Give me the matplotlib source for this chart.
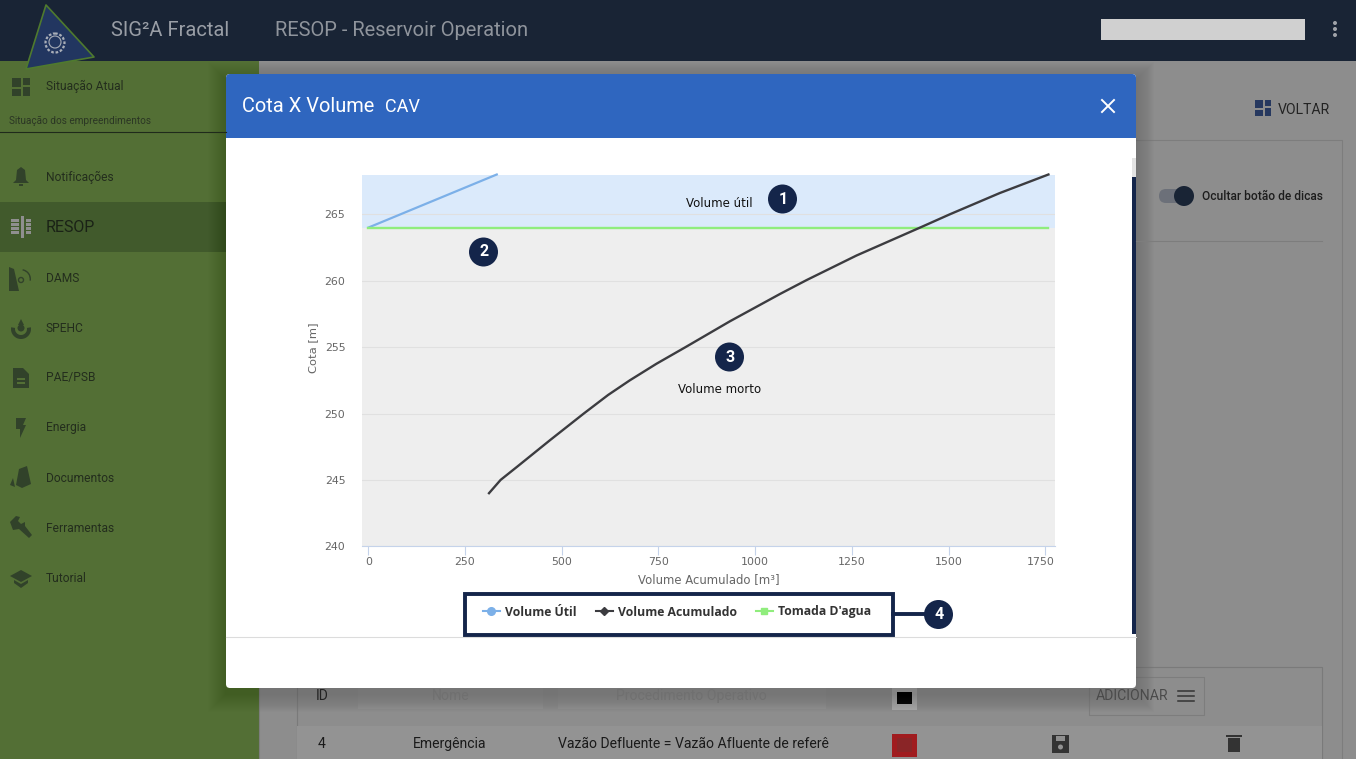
import matplotlib
matplotlib.use('Agg')
import matplotlib.pyplot as plt
from matplotlib.lines import Line2D
from matplotlib.patches import Circle, FancyBboxPatch, Polygon, Rectangle, Wedge
from matplotlib.transforms import ScaledTranslation

W, H = 1356, 759

# chart data
volume_util_x = [0, 332]
volume_util_y = [264, 268]
volume_acum_x = [312, 342, 385, 470, 557, 620, 676, 745, 820, 935, 1064, 1133, 1262, 1426, 1503, 1632, 1758]
volume_acum_y = [244, 245, 246, 248, 250, 251.4, 252.5, 253.75, 255, 256.95, 259, 260.05, 261.9, 264, 265, 266.6, 268]
tomada_x = [0, 1758]
tomada_y = [264, 264]
x_ticks = [0, 250, 500, 750, 1000, 1250, 1500, 1750]
y_ticks = [240, 245, 250, 255, 260, 265]
menu_items = ['Notificações', 'RESOP', 'DAMS', 'SPEHC', 'PAE/PSB', 'Energia',
              'Documentos', 'Ferramentas', 'Tutorial']
menu_y = [177, 227, 278, 328, 378, 428, 478, 528, 578]

NAVY = '#14254a'
BAR = '#192435'
GREEN = '#536f35'
ICON = '#31422a'
PAGE = '#8d8d8d'

plt.rcParams['font.family'] = ['Roboto', 'DejaVu Sans']


def px(size):
    return size * 0.72


def rect(ax, x0, y0, x1, y1, color, **kw):
    ax.add_patch(Rectangle((x0, y0), x1 - x0, y1 - y0, facecolor=color, edgecolor='none', **kw))


def poly(ax, pts, color, y0, x0=0):
    pts = [[x0 + p[0], y0 + p[1]] for p in pts]
    ax.add_patch(Polygon(pts, closed=True, facecolor=color, edgecolor='none'))


def badge(ax, x, y, label):
    ax.add_patch(Circle((x, y), 14.5, facecolor=NAVY, edgecolor='none', zorder=6))
    ax.text(x + 0.5, y, label, color='white', fontsize=px(16), fontweight='bold',
            ha='center', va='center', zorder=7)


def menu_icon(ax, name, y):
    # rough versions of the side menu glyphs, the y axis points down here
    if name == 'Notificações':
        poly(ax, [[21, -10], [25, -7], [26, 3], [29, 6], [13, 6], [16, 3], [17, -7]], ICON, y)
        rect(ax, 19, y + 7, 23, y + 9, ICON)
    elif name == 'RESOP':
        for dy in [-8, -4, 0, 4]:
            rect(ax, 11, y + dy, 19, y + dy + 2.5, '#8f8f8f')
            rect(ax, 26, y + dy, 31, y + dy + 2.5, '#8f8f8f')
        rect(ax, 20.5, y - 11, 24, y + 11, '#8f8f8f')
    elif name == 'DAMS':
        poly(ax, [[9, -11], [14, -9], [19, 13], [9, 13]], ICON, y)
        ax.add_patch(Wedge((21, y + 1), 10, 280, 10, width=1.4, facecolor=ICON, edgecolor='none'))
        ax.add_patch(Circle((21, y + 2), 2.5, facecolor='none', edgecolor=ICON, lw=1))
    elif name == 'SPEHC':
        ax.add_patch(Wedge((21, y + 1), 10, -10, 190, width=4, facecolor=ICON, edgecolor='none'))
        ax.add_patch(Circle((21, y), 3.5, facecolor=ICON, edgecolor='none'))
        poly(ax, [[21, -9], [24, -3], [18, -3]], ICON, y)
    elif name == 'PAE/PSB':
        poly(ax, [[13, -10], [23, -10], [29, -4], [29, 10], [13, 10]], ICON, y)
        rect(ax, 17, y, 25, y + 1.5, GREEN)
        rect(ax, 17, y + 4, 25, y + 5.5, GREEN)
    elif name == 'Energia':
        poly(ax, [[16, -10], [26, -10], [23, -3], [26, -3], [20, 10], [20, 1], [16, 1]], ICON, y)
    elif name == 'Documentos':
        poly(ax, [[19, -9], [27, -12], [31, 6], [22, 10], [16, 7]], ICON, y)
        poly(ax, [[13, 0], [15, 9], [10, 7]], ICON, y)
    elif name == 'Ferramentas':
        poly(ax, [[10, -6], [16, -12], [20, -11], [18, -7], [21, -4], [25, -6], [25, -2],
                  [32, 7], [29, 10], [19, 1], [13, 2]], ICON, y)
    elif name == 'Tutorial':
        poly(ax, [[21, -8], [32, -2], [21, 4], [10, -2]], ICON, y)
        poly(ax, [[14, 2], [21, 6], [28, 2], [28, 5], [21, 10], [14, 5]], ICON, y)


fig = plt.figure(figsize=(W / 100, H / 100), dpi=100, facecolor=PAGE)

# background page in pixel coordinates
ui = fig.add_axes([0, 0, 1, 1], zorder=0)
ui.set_xlim(0, W)
ui.set_ylim(H, 0)
ui.axis('off')

rect(ui, 259, 61, W, H, PAGE)
rect(ui, 0, 61, 259, H, GREEN)
rect(ui, 0, 202, 259, 252, '#415a2c')

# page behind the dialog
ui.add_patch(Rectangle((259, 140), 1083, 640, facecolor='none', edgecolor='#7d7d7d', lw=0.8))
ui.plot([1136, 1322], [241, 241], color='#7d7d7d', lw=0.8)
rect(ui, 1255, 100, 1263, 108, '#26385f')
rect(ui, 1255, 110, 1263, 116, '#26385f')
rect(ui, 1265, 100, 1271, 106, '#26385f')
rect(ui, 1265, 108, 1271, 116, '#26385f')
ui.text(1278, 110, 'VOLTAR', color='#232323', fontsize=px(14), va='center')
ui.add_patch(FancyBboxPatch((1159, 189), 26, 14, boxstyle='round,pad=0,rounding_size=7',
                            facecolor='#6c7079', edgecolor='none'))
ui.add_patch(Circle((1184, 196), 10, facecolor=BAR, edgecolor='none'))
ui.text(1202, 196.5, 'Ocultar botão de dicas', color='#1d1d1d', fontsize=px(12),
        fontweight='medium', va='center')

# table behind the dialog
ui.add_patch(Rectangle((297, 667), 1025, 110, facecolor='none', edgecolor='#7a7a7a', lw=0.8))
rect(ui, 297, 726, 1322, H, '#939393')
rect(ui, 358, 688, 543, 709, '#929292')
rect(ui, 558, 688, 826, 709, '#929292')
ui.text(322, 696, 'ID', color='#222222', fontsize=px(14), ha='center', va='center')
ui.text(451, 696, 'Nome', color='#707070', fontsize=px(14), ha='center', va='center')
ui.text(691, 696, 'Procedimento Operativo', color='#707070', fontsize=px(14), ha='center', va='center')
rect(ui, 892, 688, 917, 710, '#a8a8a8')
rect(ui, 897, 692, 912, 704, '#111111')
ui.add_patch(Rectangle((1089, 677), 115, 38, facecolor='none', edgecolor='#7d7d7d', lw=0.8))
ui.text(1096, 696, 'ADICIONAR', color='#4a4a4a', fontsize=px(14), va='center')
for line_y in [691, 696, 701]:
    ui.plot([1178, 1194], [line_y, line_y], color='#333333', lw=1.1)
ui.text(322, 744, '4', color='#1a1a1a', fontsize=px(14), ha='center', va='center')
ui.text(450, 744, 'Emergência', color='#1a1a1a', fontsize=px(14), ha='center', va='center')
ui.text(558, 744, 'Vazão Defluente = Vazão Afluente de referê', color='#1a1a1a',
        fontsize=px(14), va='center')
rect(ui, 892, 734, 917, 757, '#a01c1f')
rect(ui, 897, 738, 912, 752, '#8a2527')
rect(ui, 1052, 735, 1069, 753, '#333333')
rect(ui, 1056, 736, 1065, 741, '#8f8f8f')
ui.add_patch(Circle((1060.5, 747), 2.5, facecolor='#939393', edgecolor='none'))
rect(ui, 1228, 738, 1240, 752, '#333333')
rect(ui, 1226, 735, 1242, 737, '#333333')

# side menu
rect(ui, 12, 78, 21, 87, ICON)
rect(ui, 12, 89, 21, 96, ICON)
rect(ui, 23, 78, 30, 85, ICON)
rect(ui, 23, 87, 30, 96, ICON)
ui.text(46, 86, 'Situação Atual', color='#232d1d', fontsize=px(12), va='center')
ui.text(9, 120.5, 'Situação dos empreendimentos', color='#2b3624', fontsize=px(10), va='center')
ui.plot([0, 226], [131.5, 131.5], color='#1f2a1b', lw=0.8)
for name, y in zip(menu_items, menu_y):
    active = name == 'RESOP'
    ui.text(46, y, name, color='#1a2216' if active else '#232d1d',
            fontsize=px(16 if active else 12), va='center')
    menu_icon(ui, name, y)

# dialog shadow, body and header
for grow in range(1, 19):
    rect(ui, 226 - grow, 74 - grow + 6, 1136 + grow, 688 + grow + 6, 'black', alpha=0.006)

# top bar goes over the shadow
rect(ui, 0, 0, W, 61, BAR)
ui.add_patch(Polygon([[46, 5], [94, 57], [26, 69]], closed=True, facecolor='#223660',
                     edgecolor='#4f7a2e', linewidth=1.2, joinstyle='round'))
ui.add_patch(Circle((55, 43), 9.5, facecolor='none', edgecolor='#a9aeb8', linewidth=1.6, linestyle=(0, (1.2, 0.8))))
ui.add_patch(Circle((55, 42), 6, facecolor='none', edgecolor='#a9aeb8', linewidth=0.8))
ui.text(111, 30, 'SIG²A Fractal', color='#999ea6', fontsize=px(20.2), va='center')
ui.text(275, 30, 'RESOP - Reservoir Operation', color='#8f949c', fontsize=px(20.2), va='center')
rect(ui, 1101, 19, 1305, 40, '#d0d0d0')
for dot_y in [23, 29, 35]:
    ui.add_patch(Circle((1335, dot_y), 2, facecolor='#a0a3a9', edgecolor='none'))

ui.add_patch(FancyBboxPatch((226, 74), 910, 614, boxstyle='round,pad=0,rounding_size=4',
                            facecolor='white', edgecolor='none'))
ui.add_patch(FancyBboxPatch((226, 74), 910, 30, boxstyle='round,pad=0,rounding_size=4',
                            facecolor='#2f66bf', edgecolor='none'))
rect(ui, 226, 90, 1136, 138, '#2f66bf')
ui.text(242, 106.5, 'Cota X Volume', color='white', fontsize=px(20), va='center')
ui.text(385, 106.5, 'CAV', color='white', fontsize=px(18), va='center')
ui.plot([1102, 1114], [100, 112], color='white', lw=1.4)
ui.plot([1102, 1114], [112, 100], color='white', lw=1.4)
ui.plot([226, 1136], [636.5, 636.5], color='#dcdcdc', lw=0.8)
rect(ui, 1132, 158, 1136, 177, '#e3e3e3')
rect(ui, 1132, 177, 1136, 634, NAVY)

# chart, placed on the dialog by pixel box
left, right, top, bottom = 362, 1055, 174.5, 546.3
ax = fig.add_axes([left / W, 1 - bottom / H, (right - left) / W, (bottom - top) / H], zorder=1)
ax.set_xlim(-16.3, 1775)
ax.set_ylim(240, 268)
ax.set_facecolor('none')
ax.axhspan(240, 264, color='#eeeeee', lw=0, zorder=0)
ax.axhspan(264, 267.94, color='#dbeafb', lw=0, zorder=0)
ax.set_yticks(y_ticks)
ax.set_xticks(x_ticks)
ax.grid(axis='y', color='#e0e0e0', lw=0.8, zorder=1)
ax.set_axisbelow(True)
for side in ['top', 'right', 'left']:
    ax.spines[side].set_visible(False)
ax.spines['bottom'].set_color('#c5d3ea')
ax.tick_params(axis='x', length=6.5, color='#c5d3ea', labelsize=px(11), labelcolor='#666666', pad=1.5)
ax.tick_params(axis='y', length=0, labelsize=px(11), labelcolor='#666666', pad=12)
for label in ax.get_xticklabels() + ax.get_yticklabels():
    label.set_family(['DejaVu Sans'])
# last tick label is pulled in so it ends at the plot edge
last = ax.get_xticklabels()[-1]
last.set_ha('right')
last.set_transform(last.get_transform() + ScaledTranslation(7 / 72, 0, fig.dpi_scale_trans))
ax.set_xlabel('Volume Acumulado [m³]', fontsize=px(11.6), color='#666666', family=['DejaVu Sans'], labelpad=3.8)
ax.set_ylabel('Cota [m]', fontsize=px(11.5), color='#666666', family=['DejaVu Sans'], labelpad=4.5, y=0.535)

ax.plot(volume_util_x, volume_util_y, color='#7cb0e8', lw=1.6, clip_on=False, zorder=3)
ax.plot(tomada_x, tomada_y, color='#90ed7d', lw=1.7, clip_on=False, zorder=3)
ax.plot(volume_acum_x, volume_acum_y, color='#3c3c40', lw=1.7, clip_on=False, zorder=4)

ax.text(908, 265.78, 'Volume útil', fontsize=px(11.8), color='#111111', family=['DejaVu Sans'],
        ha='center', va='center', zorder=5)
ax.text(908, 251.82, 'Volume morto', fontsize=px(11.8), color='#111111', family=['DejaVu Sans'],
        ha='center', va='center', zorder=5)

handles = [
    Line2D([], [], color='#7cb0e8', lw=1.5, marker='o', ms=5.5),
    Line2D([], [], color='#3c3c40', lw=1.5, marker='D', ms=3.8),
    Line2D([], [], color='#90ed7d', lw=1.5, marker='s', ms=5),
]
fig.legend(handles, ['Volume Útil', 'Volume Acumulado', "Tomada D'agua"],
           loc='center', bbox_to_anchor=(677 / W, 1 - 612 / H), ncol=3, frameon=False,
           prop={'family': ['Open Sans'], 'weight': 'bold', 'size': px(12.3)},
           handlelength=1.35, handletextpad=0.4, columnspacing=1.6, labelcolor='#333333')

# help annotations on top of everything
over = fig.add_axes([0, 0, 1, 1], zorder=2)
over.set_xlim(0, W)
over.set_ylim(H, 0)
over.axis('off')
over.patch.set_alpha(0)
over.add_patch(Rectangle((465, 593.5), 428, 41.5, facecolor='none', edgecolor=NAVY, lw=2.8))
over.plot([893, 925], [614, 614], color=NAVY, lw=2.8)
badge(over, 782.5, 199, '1')
badge(over, 483.5, 252, '2')
badge(over, 729.5, 357, '3')
badge(over, 938.5, 614.5, '4')

fig.savefig('out.png', dpi=100, facecolor=fig.get_facecolor())
